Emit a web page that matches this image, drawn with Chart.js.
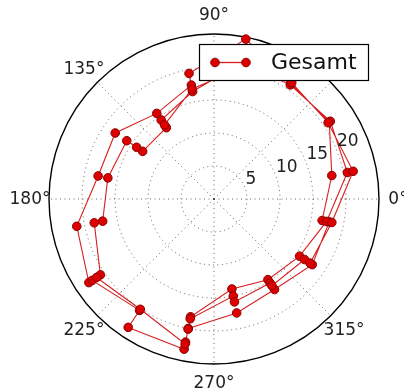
<!DOCTYPE html>
<html><head><meta charset="utf-8">
<script src="https://cdn.jsdelivr.net/npm/chart.js@4/dist/chart.umd.min.js"></script>
<style>html,body{margin:0;padding:0;background:#fff}canvas{display:block}</style>
</head><body>
<canvas id="c" width="404" height="388"></canvas>
<script>
// Series: direction (degrees, counter-clockwise from east) and radial value
const seriesName = 'Gesamt';
const thetaDeg = [
  258.75, 281.25, 303.75, 326.25, 348.75,
  348.75, 11.25, 33.75, 56.25, 78.75, 101.25, 101.25, 123.75, 146.25, 168.75,
  191.25, 213.75, 213.75, 236.25, 236.25, 258.75, 258.75, 258.75, 258.75,
  281.25, 303.75, 326.25, 348.75,
  11.25, 33.75, 56.25, 78.75, 101.25, 123.75, 123.75, 146.25, 146.25, 146.25,
  168.75, 191.25, 191.25, 213.75, 213.75, 236.25, 258.75, 258.75,
  281.25, 281.25, 303.75, 303.75, 326.25, 326.25, 348.75,
  11.25, 33.75, 56.25, 78.75, 101.25, 123.75
];
const radius = [
  20.0, 17.6, 16.5, 17.9, 17.8,
  16.7, 18.2, 21.0, 21.0, 24.7, 19.4, 17.6, 15.6, 18.0, 17.9,
  21.2, 22.8, 22.2, 20.3, 23.4, 23.2, 22.1, 20.1, 18.2,
  13.9, 14.7, 15.6, 17.4,
  20.6, 21.2, 20.8, 21.0, 16.6, 14.4, 13.0, 13.0, 14.1, 15.9,
  16.4, 17.2, 18.5, 20.7, 21.4, 20.1, 22.4, 18.5,
  15.0, 15.9, 15.3, 15.8, 16.5, 17.5, 18.2,
  21.5, 20.8, 21.2, 20.2, 17.0, 13.5
];
const rTicks = [5, 10, 15, 20];
const rMax = 25;
const thetaTicks = [0, 45, 90, 135, 180, 225, 270, 315];
const thetaTickLabels = ['0°', '45°', '90°', '135°', '180°', '225°', '270°', '315°'];

const rad = d => d * Math.PI / 180;
const points = thetaDeg.map((t, i) => ({ x: radius[i] * Math.cos(rad(t)), y: radius[i] * Math.sin(rad(t)) }));

const FONT = '"DejaVu Sans", sans-serif';

const polarFrame = {
  id: 'polarFrame',
  beforeDatasetsDraw(chart) {
    const { ctx, scales: { x, y } } = chart;
    const cx = x.getPixelForValue(0), cy = y.getPixelForValue(0);
    const k = x.getPixelForValue(1) - cx;
    ctx.save();
    ctx.strokeStyle = 'rgba(0,0,0,0.6)';
    ctx.lineWidth = 1;
    ctx.setLineDash([1, 3.5]);
    rTicks.forEach(r => {
      ctx.beginPath();
      ctx.arc(cx, cy, r * k, 0, Math.PI * 2);
      ctx.stroke();
    });
    thetaTicks.forEach(t => {
      ctx.beginPath();
      ctx.moveTo(cx, cy);
      ctx.lineTo(cx + rMax * k * Math.cos(rad(t)), cy - rMax * k * Math.sin(rad(t)));
      ctx.stroke();
    });
    ctx.setLineDash([]);
    ctx.strokeStyle = '#000';
    ctx.lineWidth = 1.4;
    ctx.beginPath();
    ctx.arc(cx, cy, rMax * k, 0, Math.PI * 2);
    ctx.stroke();
    ctx.restore();
  },
  afterDatasetsDraw(chart) {
    const { ctx, scales: { x, y } } = chart;
    const cx = x.getPixelForValue(0), cy = y.getPixelForValue(0);
    const k = x.getPixelForValue(1) - cx;
    ctx.save();
    ctx.fillStyle = '#222';
    ctx.font = '17px ' + FONT;
    // angle labels outside the outer circle
    ctx.textAlign = 'center';
    ctx.textBaseline = 'middle';
    const lr = rMax * k * 1.115;
    thetaTicks.forEach((t, i) => {
      ctx.fillText(thetaTickLabels[i], cx + lr * Math.cos(rad(t)), cy - lr * Math.sin(rad(t)) + 1);
    });
    // radial labels along 22.5°
    ctx.textAlign = 'left';
    ctx.textBaseline = 'bottom';
    rTicks.forEach(r => {
      ctx.fillText(String(r), cx + r * k * Math.cos(rad(22.5)) + 1, cy - r * k * Math.sin(rad(22.5)) + 2);
    });
    // legend
    const ds = chart.data.datasets[0];
    const bx = 199, by = 44, bw = 169, bh = 36;
    ctx.fillStyle = '#fff';
    ctx.fillRect(bx, by, bw, bh);
    ctx.strokeStyle = '#000';
    ctx.lineWidth = 1.2;
    ctx.strokeRect(bx + 0.5, by + 0.5, bw, bh);
    const my = by + bh / 2 + 0.5;
    ctx.strokeStyle = ds.borderColor;
    ctx.lineWidth = 1.3;
    ctx.beginPath();
    ctx.moveTo(215, my);
    ctx.lineTo(246, my);
    ctx.stroke();
    [215, 246].forEach(px => {
      ctx.beginPath();
      ctx.arc(px, my, 4.3, 0, Math.PI * 2);
      ctx.fillStyle = ds.pointBackgroundColor;
      ctx.fill();
      ctx.strokeStyle = ds.pointBorderColor;
      ctx.lineWidth = 1;
      ctx.stroke();
    });
    ctx.fillStyle = '#111';
    ctx.font = '22px ' + FONT;
    ctx.textAlign = 'left';
    ctx.textBaseline = 'middle';
    ctx.fillText(ds.label, 271, my + 1);
    ctx.restore();
  }
};

new Chart(document.getElementById('c'), {
  type: 'scatter',
  data: {
    datasets: [{
      label: seriesName,
      data: points,
      showLine: true,
      borderColor: '#d81e1e',
      borderWidth: 1.1,
      pointRadius: 4.3,
      pointHoverRadius: 4.3,
      pointBackgroundColor: '#dd0000',
      pointBorderColor: '#8a0000',
      pointBorderWidth: 1,
      clip: false
    }]
  },
  options: {
    responsive: false,
    maintainAspectRatio: false,
    animation: false,
    layout: { padding: { left: 49, right: 25, top: 34, bottom: 24 } },
    scales: {
      x: { type: 'linear', min: -rMax, max: rMax, display: false },
      y: { type: 'linear', min: -rMax, max: rMax, display: false }
    },
    plugins: { legend: { display: false }, tooltip: { enabled: false } }
  },
  plugins: [polarFrame]
});
</script>
</body></html>
